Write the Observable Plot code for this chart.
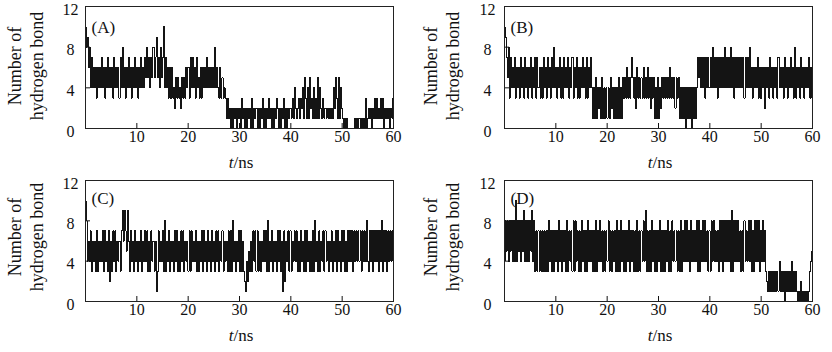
<!DOCTYPE html>
<html><head><meta charset="utf-8">
<script src="https://cdn.jsdelivr.net/npm/d3@7"></script>
<script src="https://cdn.jsdelivr.net/npm/@observablehq/plot@0.6"></script>
<style>
html,body{margin:0;padding:0;background:#fff;}
#wrap{position:relative;width:832px;height:352px;overflow:hidden;background:#fff;}
.panel{position:absolute;}
.ylab{position:absolute;width:140px;height:44px;line-height:22px;text-align:center;
  font-family:'Liberation Serif','Times New Roman',serif;font-size:18px;color:#111;
  transform:rotate(-90deg);transform-origin:50% 50%;white-space:pre;}
</style></head><body><div id="wrap"></div>
<script>
// ---- data ----
const panelLabels = ["(A)", "(B)", "(C)", "(D)"];
const xTickLabels = [10, 20, 30, 40, 50, 60];
const xTickMarks = [10, 20, 30, 40, 50];
const yTickLabels = [0, 4, 8, 12];
const yTickMarks = [4, 8];
const xLabelItalic = "t";
const xLabelRest = "/ns";
const yLabelLines = ["Number of", "hydrogen bond"];
const timeSpan = [0, 60];
// hydrogen-bond counts, one hex digit per 0.2 ns sample (a = 10), 5 samples per ns
const seriesA = [
  "a8968","47464","63646","47463","64746","46374","64637","48463","64746","36474",
  "63647","46475","85747","58579","57485","7a474","63636","34253","53425","35364",
  "63747","46374","53636","46474","64646","48464","36353","43131","20202","12021",
  "20312","02021","20302","12020","21302","02131","20202","13202","02130","20212",
  "13142","12313","24153","14152","31413","15142","13121","21212","14253","15142",
  "10101","00000","00101","01010","10301","21202","13131","21313","02121","20213"
].join("");
const seriesB = [
  "a9758","37464","73646","37463","74636","47364","73746","36374","63746","37484",
  "63647","36374","64736","47364","73636","47463","73647","41415","14241","51414",
  "14152","41414","15141","53536","35357","53526","35353","63536","35253","51415",
  "14253","53535","36353","52535","14141","40414","14041","41475","74747","37474",
  "74847","47374","74748","47474","84737","47474","74737","47484","63646","47363",
  "64626","46374","63646","37464","63746","36474","63836","46374","63646","47363"
].join("");
const seriesC = [
  "a8464","73646","37364","64737","46372","63747","36463","79697","59637","46374",
  "63647","36474","73637","46361","37464","73836","47364","63747","36374","73646",
  "37374","64736","36473","74637","46374","63747","36473","64637","37384","63647",
  "37363","21425","36374","73736","36474","73836","47364","63747","36172","64737",
  "36474","73637","46373","74636","37384","63736","47374","63647","36473","74637",
  "47363","74747","37474","74737","47484","37473","74747","37483","74737","47474"
].join("");
const seriesD = [
  "48584","85848","4a485","84859","48484","85948","37373","73737","37384","73737",
  "47384","73747","38374","73838","47373","84737","38474","73738","37484","73737",
  "48373","74738","37384","73737","48374","73738","37374","84937","37384","73737",
  "48373","73748","37384","74737","38374","84847","38474","74838","37484","84737",
  "38484","74738","48384","84848","39384","84847","37384","74848","37384","84837",
  "48473","21313","13131","31413","13031","31314","13131","01020","10101","01345"
].join("");

const allSeries = [seriesA, seriesB, seriesC, seriesD];

// ---- layout ----
const W = 416, H = 176;
const layouts = [
  {left: 0,   top: 0,   mL: 85, mR: 23, mT: 6, mB: 48, lx: 26, ly: 66, pl: 14},
  {left: 416, top: 0,   mL: 88, mR: 20, mT: 6, mB: 48, lx: 26, ly: 66, pl: 14},
  {left: 0,   top: 176, mL: 85, mR: 23, mT: 4, mB: 51, lx: 26, ly: 61, pl: 11},
  {left: 416, top: 176, mL: 88, mR: 20, mT: 4, mB: 51, lx: 26, ly: 61, pl: 11}
];

const wrap = document.getElementById("wrap");
const font = "'Liberation Serif','Times New Roman',serif";

allSeries.forEach((s, k) => {
  const L = layouts[k];
  const vals = Array.from(s).map(c => parseInt(c, 16));
  const n = vals.length;
  const data = vals.map((v, i) => ({t: timeSpan[0] + i * (timeSpan[1] - timeSpan[0]) / (n - 1), v}));
  const plotW = W - L.mL - L.mR;
  const plotH = H - L.mT - L.mB;
  const chart = Plot.plot({
    width: W, height: H,
    marginLeft: L.mL, marginRight: L.mR, marginTop: L.mT, marginBottom: L.mB,
    style: {fontFamily: font, fontSize: "16px", color: "#111", background: "transparent"},
    x: {domain: timeSpan},
    y: {domain: [0, 12]},
    marks: [
      Plot.lineY(data, {x: "t", y: "v", curve: "step", stroke: "#141414", strokeWidth: 1, shapeRendering: "crispEdges"}),
      Plot.ruleX(xTickMarks, {stroke: "#111", insetTop: plotH - 5}),
      Plot.ruleY(yTickMarks, {stroke: "#111", insetRight: plotW - 5}),
      Plot.frame({stroke: "#222", strokeWidth: 1}),
      Plot.axisX(xTickLabels, {tickSize: 0, tickPadding: 2, label: null, fontSize: 16}),
      Plot.axisY(yTickLabels, {tickSize: 0, tickPadding: L.mL - 70 - (k % 2 ? 1 : 0), textAnchor: "middle", dy: 3, label: null, fontSize: 16}),
      Plot.text([panelLabels[k]], {text: d => d, frameAnchor: "top-left", textAnchor: "start", dx: 6, dy: L.pl, fontSize: 17}),
      Plot.text([xLabelItalic], {text: d => d, frameAnchor: "bottom", textAnchor: "end", dx: -6, dy: 39, fontSize: 17, fontStyle: "italic"}),
      Plot.text([xLabelRest], {text: d => d, frameAnchor: "bottom", textAnchor: "start", dx: -6, dy: 39, fontSize: 17})
    ]
  });
  chart.classList.add("panel");
  chart.style.left = L.left + "px";
  chart.style.top = L.top + "px";
  wrap.appendChild(chart);

  const lab = document.createElement("div");
  lab.className = "ylab";
  lab.textContent = yLabelLines.join("\n");
  lab.style.left = (L.left + L.lx - 70) + "px";
  lab.style.top = (L.top + L.ly - 22) + "px";
  wrap.appendChild(lab);
});
</script>
</body></html>
